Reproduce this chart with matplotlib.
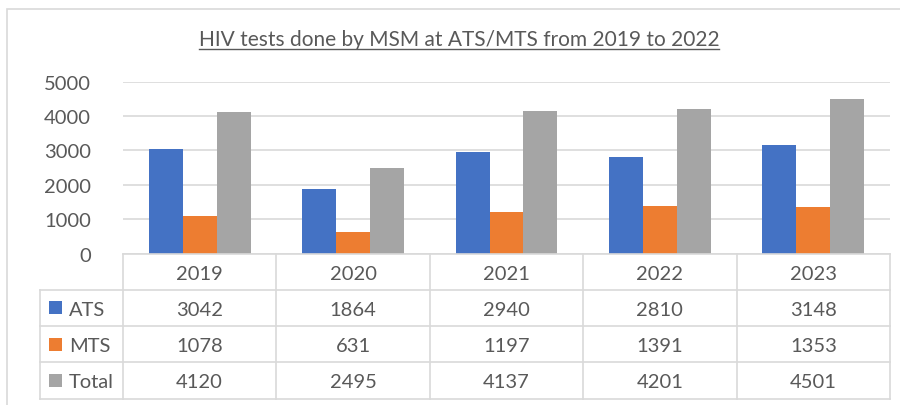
import matplotlib
matplotlib.use("Agg")
import matplotlib.pyplot as plt
from matplotlib.patches import Rectangle
from matplotlib.lines import Line2D
import numpy as np

years = ["2019", "2020", "2021", "2022", "2023"]
series_names = ["ATS", "MTS", "Total"]
ats = [3042, 1864, 2940, 2810, 3148]
mts = [1078, 631, 1197, 1391, 1353]
total = [4120, 2495, 4137, 4201, 4501]
yticks = [0, 1000, 2000, 3000, 4000, 5000]
title = "HIV tests done by MSM at ATS/MTS from 2019 to 2022"

colors = ["#4472C4", "#ED7D31", "#A5A5A5"]
text_color = "#595959"
grid_color = "#D9D9D9"
FONT = ["Lato", "DejaVu Sans"]
plt.rcParams["font.family"] = FONT

W, H = 900, 406
fig = plt.figure(figsize=(W / 100, H / 100), dpi=100)

def px_rect(l, t, r, b):
    return [l / W, 1 - b / H, (r - l) / W, (b - t) / H]

# outer chart border
fig.add_artist(Rectangle((7 / W, -0.1), 1.2, 1 - 10 / H + 0.1, transform=fig.transFigure,
                         fill=False, edgecolor=grid_color, linewidth=1.2))

# main plot
ax_l, ax_r, ax_t, ax_b = 123, 890, 82.7, 254.5
ax = fig.add_axes(px_rect(ax_l, ax_t, ax_r, ax_b))
x = np.arange(len(years))
bw = 0.2216
for i, vals in enumerate([ats, mts, total]):
    ax.bar(x + (i - 1) * bw, vals, width=bw, color=colors[i], zorder=3)
ax.set_xlim(-0.5, len(years) - 0.5)
ax.set_ylim(0, 5000)
ax.set_yticks(yticks)
ax.set_yticklabels([str(v) for v in yticks])
ax.set_xticks([])
ax.grid(axis="y", color=grid_color, linewidth=1.2, zorder=0)
for s in ax.spines.values():
    s.set_visible(False)
ax.tick_params(axis="y", length=0, pad=23, labelsize=14.5, labelcolor=text_color)

# data table
tab_l, tab_t, tab_b = 40, 254.5, 399.5
unit = (ax_r - ax_l) / len(years)
lab_left = -0.5 - (ax_l - tab_l) / unit
tax = fig.add_axes(px_rect(tab_l, tab_t, ax_r, tab_b))
tax.set_xlim(lab_left, len(years) - 0.5)
tax.set_ylim(4, 0)
tax.axis("off")
lw = 1.2
tax.plot([-0.5, len(years) - 0.5], [0, 0], color=grid_color, lw=lw, clip_on=False)
for r in range(1, 5):
    tax.plot([lab_left, len(years) - 0.5], [r, r], color=grid_color, lw=lw, clip_on=False)
tax.plot([lab_left, lab_left], [1, 4], color=grid_color, lw=lw, clip_on=False)
for c in range(len(years) + 1):
    tax.plot([c - 0.5, c - 0.5], [0, 4], color=grid_color, lw=lw, clip_on=False)

for j, yv in enumerate(years):
    tax.text(j, 0.5, yv, ha="center", va="center_baseline", fontsize=14.5, color=text_color)
for i, (name, vals) in enumerate(zip(series_names, [ats, mts, total])):
    row = i + 1.5
    for j, v in enumerate(vals):
        tax.text(j, row, str(v), ha="center", va="center_baseline", fontsize=14.5, color=text_color)
    key_x = lab_left + 9 / unit
    ks = 13 / unit
    kh = 13 / 36.25
    tax.add_patch(Rectangle((key_x, row - kh / 2), ks, kh, facecolor=colors[i], edgecolor="none",
                            clip_on=False))
    tax.text(lab_left + 29 / unit, row, name, ha="left", va="center_baseline", fontsize=14.5,
             color=text_color)

# title with underline
t = fig.text(459 / W, 1 - 45.5 / H, title, ha="center", va="baseline", fontsize=15,
             color=text_color)
fig.canvas.draw()
bb = t.get_window_extent()
uy = 1 - 49.5 / H
fig.add_artist(Line2D([bb.x0 / W, bb.x1 / W], [uy, uy], transform=fig.transFigure,
                      color=text_color, lw=1.0))

fig.savefig("out.png", dpi=100)
